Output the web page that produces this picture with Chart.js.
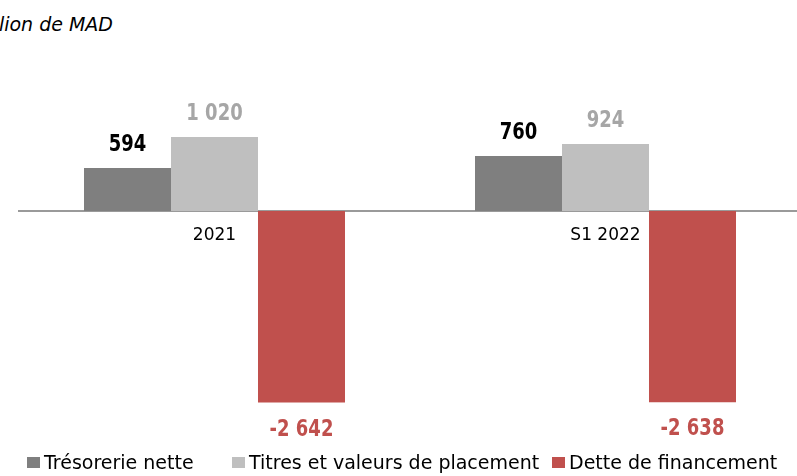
<!DOCTYPE html>
<html lang="fr">
<head>
<meta charset="utf-8">
<title>Trésorerie</title>
<script src="https://cdn.jsdelivr.net/npm/chart.js@4/dist/chart.umd.min.js"></script>
<style>
    html, body { margin: 0; padding: 0; background: #fff; }
    body { width: 797px; height: 476px; position: relative; overflow: hidden; font-family: "DejaVu Sans", sans-serif; }
    #unit {
        position: absolute; right: 684px; top: 13px; white-space: nowrap;
        font: italic 19px "DejaVu Sans", sans-serif; color: #000;
    }
    #wrap { position: absolute; left: 0; top: 0; width: 810px; height: 476px; }
    #legend {
        position: absolute; left: 0; width: 797px; top: 451px; height: 22px;
        font: 19px "DejaVu Sans", sans-serif; color: #000; line-height: 22px;
    }
    #legend .item { position: absolute; top: 0; display: flex; align-items: center; white-space: nowrap; }
    #legend .box { width: 13px; height: 11px; margin-right: 4px; }
</style>
</head>
<body>
<div id="unit">En million de MAD</div>
<div id="wrap"><canvas id="tresoChart" width="810" height="476"></canvas></div>
<div id="legend"></div>

<script>
// Données (millions de MAD)
const periodes = ['2021', 'S1 2022'];
const tresorerieNette = [594, 760];
const titresPlacement = [1020, 924];
const detteFinancement = [-2642, -2638];

const seriesNames = ['Trésorerie nette', 'Titres et valeurs de placement', 'Dette de financement'];
const seriesColors = ['#7f7f7f', '#bfbfbf', '#c0504d'];
const labelColors = ['#000000', '#a6a6a6', '#c0504d'];
const legendLeft = [27, 232, 552];

// format "1 020" / "-2 642"
function formatMAD(v) {
    const s = Math.abs(v).toString().replace(/\B(?=(\d{3})+(?!\d))/g, ' ');
    return (v < 0 ? '-' : '') + s;
}

// étiquettes de valeurs au-dessus / en dessous des barres (police un peu étirée en hauteur)
const valueLabels = {
    id: 'valueLabels',
    afterDatasetsDraw(chart) {
        const ctx = chart.ctx;
        const stretch = 1.3;
        chart.data.datasets.forEach((ds, i) => {
            const meta = chart.getDatasetMeta(i);
            meta.data.forEach((bar, j) => {
                const v = ds.data[j];
                const y = v >= 0 ? bar.y - 23 : bar.y + 27;
                ctx.save();
                ctx.font = 'bold 18px "DejaVu Sans", sans-serif';
                ctx.textAlign = 'center';
                ctx.textBaseline = 'middle';
                ctx.fillStyle = labelColors[i];
                ctx.translate(bar.x, y);
                ctx.scale(1, stretch);
                ctx.fillText(formatMAD(v), 0, 0);
                ctx.restore();
            });
        });
    }
};

const chart = new Chart(document.getElementById('tresoChart').getContext('2d'), {
    type: 'bar',
    data: {
        labels: periodes,
        datasets: [
            { label: seriesNames[0], data: tresorerieNette, backgroundColor: seriesColors[0] },
            { label: seriesNames[1], data: titresPlacement, backgroundColor: seriesColors[1] },
            { label: seriesNames[2], data: detteFinancement, backgroundColor: seriesColors[2] }
        ]
    },
    options: {
        responsive: false,
        animation: false,
        layout: { padding: { left: 19, right: 9, top: 50, bottom: 71 } },
        datasets: {
            bar: { categoryPercentage: 0.6675, barPercentage: 1, borderWidth: 0 }
        },
        plugins: {
            legend: { display: false },
            tooltip: { enabled: false }
        },
        scales: {
            x: {
                position: { y: 0 },
                grid: { display: false, drawTicks: false },
                border: { display: true, color: '#9a9a9a', width: 2 },
                ticks: {
                    color: '#000',
                    padding: 14,
                    font: { family: '"DejaVu Sans", sans-serif', size: 17 }
                }
            },
            y: {
                display: false,
                min: -2676,
                max: 2221
            }
        }
    },
    plugins: [valueLabels]
});

// légende en HTML à partir des datasets
const legendEl = document.getElementById('legend');
chart.data.datasets.forEach((ds, i) => {
    const item = document.createElement('div');
    item.className = 'item';
    item.style.left = legendLeft[i] + 'px';
    item.innerHTML = `<span class="box" style="background:${ds.backgroundColor}"></span>${ds.label}`;
    legendEl.appendChild(item);
});
</script>
</body>
</html>
